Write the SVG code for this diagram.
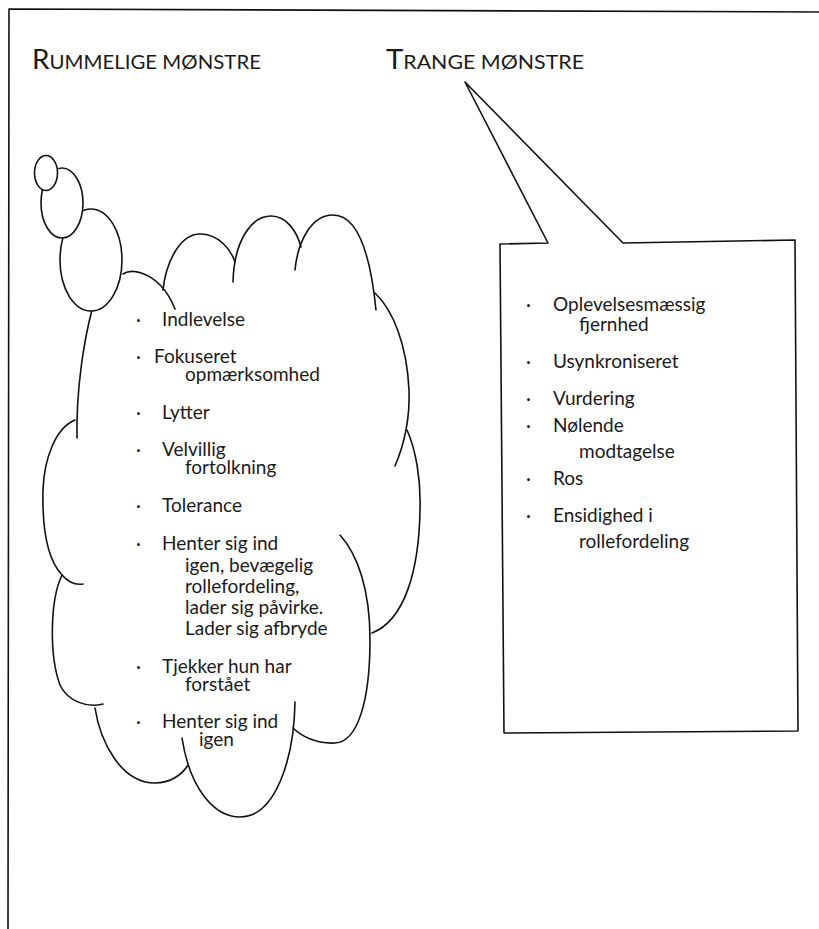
<svg xmlns="http://www.w3.org/2000/svg" width="819" height="929" viewBox="0 0 819 929">
<style>
  .ln { fill: none; stroke: #111; stroke-width: 1.6; stroke-linecap: round; stroke-linejoin: round; }
  .wf { fill: #fff; stroke: #111; stroke-width: 1.6; }
  .t { font-family: Lato, "Open Sans", "Liberation Sans", sans-serif; font-size: 19px; fill: #1a1a1a; }
  .h { font-family: Lato, "Open Sans", "Liberation Sans", sans-serif; fill: #1a1a1a; }
</style>
<rect x="0" y="0" width="819" height="929" fill="#fff"/>
<g id="frame">
  <path class="ln" d="M8,929 L9,9 L819,12"/>
</g>
<g id="title-rummelige">
  <text class="h" x="32" y="69" textLength="229" lengthAdjust="spacingAndGlyphs"><tspan font-size="26">R</tspan><tspan font-size="19">UMMELIGE MØNSTRE</tspan></text>
</g>
<g id="title-trange">
  <text class="h" x="386" y="69" textLength="198" lengthAdjust="spacingAndGlyphs"><tspan font-size="26">T</tspan><tspan font-size="19">RANGE MØNSTRE</tspan></text>
</g>
<g id="cloud-rummelige">
  <path class="ln" d="M123,274 C135,266 162,276 175,309"/>
  <path class="ln" d="M163,290 C166,262 180,234 200,234 C219,234 231,250 235,262"/>
  <path class="ln" d="M233,282 C234,240 252,216 271,216 C287,216 297,232 301,247"/>
  <path class="ln" d="M295,270 C298,240 312,215 333,215 C356,215 370,250 376,310"/>
  <path class="ln" d="M375,293 C393,310 407,345 409,390 C410,420 404,445 395,466"/>
  <path class="ln" d="M407,430 C416,450 421,480 420,510 C419,570 405,620 372,633"/>
  <path class="ln" d="M340,535 C358,555 370,590 370,640 C370,700 358,742 335,743 C315,744 300,735 293,728"/>
  <path class="ln" d="M295,702 C294,760 275,817 240,817 C215,817 190,790 182,738"/>
  <path class="ln" d="M95,708 C100,740 120,783 155,783 C170,783 182,775 188,765"/>
  <path class="ln" d="M62,575 C50,600 49,655 60,685 C68,702 88,708 103,704"/>
  <path class="ln" d="M75,420 C55,428 44,460 43,490 C42,530 48,560 62,575 C68,582 76,585 83,584"/>
  <path class="ln" d="M92,310 C84,340 76,390 77,438"/>
  <ellipse class="wf" cx="91" cy="260" rx="31" ry="51"/>
  <ellipse class="wf" cx="62" cy="203" rx="21" ry="35"/>
  <ellipse class="wf" cx="46" cy="173" rx="11.5" ry="17.5"/>
  <g class="t">
    <text x="136" y="326">·</text><text x="162" y="326">Indlevelse</text>
    <text x="136" y="363">·</text><text x="154" y="363">Fokuseret</text>
    <text x="185" y="381">opmærksomhed</text>
    <text x="136" y="419">·</text><text x="162" y="419">Lytter</text>
    <text x="136" y="456">·</text><text x="162" y="456">Velvillig</text>
    <text x="185" y="474">fortolkning</text>
    <text x="136" y="512">·</text><text x="162" y="512">Tolerance</text>
    <text x="136" y="550">·</text><text x="162" y="550">Henter sig ind</text>
    <text x="185" y="572">igen, bevægelig</text>
    <text x="185" y="593">rollefordeling,</text>
    <text x="185" y="614">lader sig påvirke.</text>
    <text x="185" y="635">Lader sig afbryde</text>
    <text x="136" y="673">·</text><text x="162" y="673">Tjekker hun har</text>
    <text x="185" y="691">forstået</text>
    <text x="136" y="728">·</text><text x="162" y="728">Henter sig ind</text>
    <text x="199" y="746">igen</text>
  </g>
</g>
<g id="bubble-trange">
  <path class="ln" d="M504,733 L500,244 L548,243 L465,82 L623,243 L795,240 L798,731 Z"/>
  <g class="t">
    <text x="526" y="311">·</text><text x="553" y="311">Oplevelsesmæssig</text>
    <text x="579" y="331">fjernhed</text>
    <text x="526" y="368">·</text><text x="553" y="368">Usynkroniseret</text>
    <text x="526" y="405">·</text><text x="553" y="405">Vurdering</text>
    <text x="526" y="432">·</text><text x="553" y="432">Nølende</text>
    <text x="579" y="458">modtagelse</text>
    <text x="526" y="485">·</text><text x="553" y="485">Ros</text>
    <text x="526" y="522">·</text><text x="553" y="522">Ensidighed i</text>
    <text x="579" y="548">rollefordeling</text>
  </g>
</g>
</svg>
